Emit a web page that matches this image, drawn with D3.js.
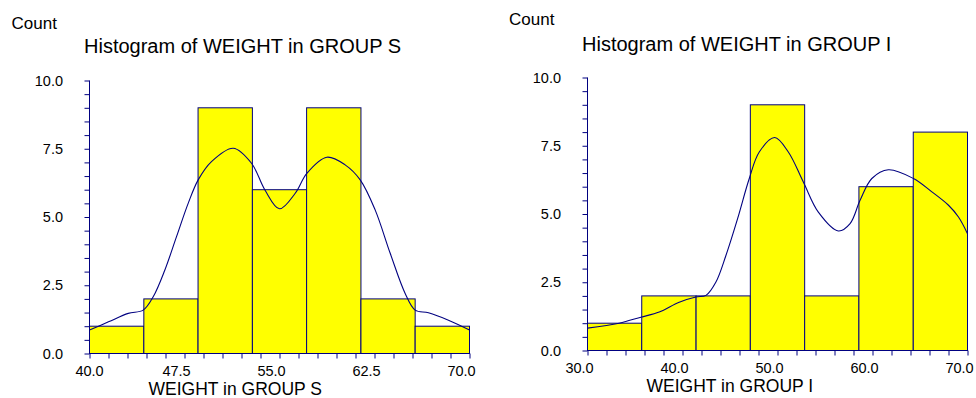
<!DOCTYPE html>
<html>
<head>
<meta charset="utf-8">
<script src="https://cdn.jsdelivr.net/npm/d3@7/dist/d3.min.js"></script>
<style>
  html, body { margin: 0; padding: 0; background: #ffffff; }
  svg { display: block; }
  text { font-family: "Liberation Sans", Arial, sans-serif; fill: #000; }
</style>
</head>
<body>
<svg id="chart" width="976" height="398"></svg>
<script>
// ---- Group S ----
const binEdgesS = [40, 44.29, 48.57, 52.86, 57.14, 61.43, 65.71, 70];
const countsS = [1, 2, 9, 6, 9, 2, 1];
const densityXS = [40.0, 41.5, 43.06, 44.24, 45.03, 45.95, 46.87, 47.79, 48.58, 49.63, 51.35, 52.79, 53.85, 55.0, 56.24, 57.16, 58.74, 60.18, 61.37, 62.55, 63.74, 64.92, 65.71, 66.76, 68.34, 70.0];
const densityYS = [0.86, 1.16, 1.47, 1.59, 2.08, 3.06, 4.28, 5.50, 6.36, 7.03, 7.52, 6.97, 5.99, 5.30, 5.87, 6.60, 7.19, 6.91, 6.36, 5.26, 3.67, 2.20, 1.59, 1.49, 1.22, 0.86];
const xMinorTicksS = d3.range(40, 70.001, 1.5);
const xTickLabelsS = [40, 47.5, 55, 62.5, 70];

// ---- Group I ----
const binEdgesI = [30, 35.71, 41.43, 47.14, 52.86, 58.57, 64.29, 70];
const countsI = [1, 2, 2, 9, 2, 6, 8];
const densityXI = [30.0, 33.33, 35.62, 37.55, 39.65, 41.41, 42.47, 43.52, 44.57, 45.80, 47.03, 48.08, 49.7, 51.14, 52.72, 54.30, 56.41, 57.64, 58.69, 59.93, 61.67, 64.31, 66.25, 68.0, 69.05, 70.0];
const densityYI = [0.82, 1.00, 1.22, 1.41, 1.77, 1.96, 2.02, 2.51, 3.48, 4.83, 6.30, 7.27, 7.80, 7.27, 6.17, 5.07, 4.38, 4.65, 5.50, 6.30, 6.62, 6.30, 5.81, 5.32, 4.89, 4.28];
const xMinorTicksI = d3.range(30, 70.001, 2);
const xTickLabelsI = [30, 40, 50, 60, 70];

// Shared count axis
const yMinorTicks = d3.range(0, 10.001, 0.5);
const yTickLabels = [0, 2.5, 5, 7.5, 10];

const NAVY = "#000080";
const svg = d3.select("#chart");

const panels = [
  {
    title: "Histogram of WEIGHT in GROUP S", xLabel: "WEIGHT in GROUP S",
    edges: binEdgesS, counts: countsS, dx: densityXS, dy: densityYS,
    minor: xMinorTicksS, labels: xTickLabelsS,
    left: 89.5, right: 469.5, bottom: 353.5, top: 80.5,
    countPos: [11.5, 29], titlePos: [84, 53], firstLabelCentered: true
  },
  {
    title: "Histogram of WEIGHT in GROUP I", xLabel: "WEIGHT in GROUP I",
    edges: binEdgesI, counts: countsI, dx: densityXI, dy: densityYI,
    minor: xMinorTicksI, labels: xTickLabelsI,
    left: 587.5, right: 967.5, bottom: 350.5, top: 77.5,
    countPos: [509, 25], titlePos: [582, 51], firstLabelCentered: false
  }
];

panels.forEach(p => {
  const g = svg.append("g");
  const x = d3.scaleLinear().domain([p.edges[0], p.edges[p.edges.length - 1]]).range([p.left, p.right]);
  const y = d3.scaleLinear().domain([0, 10]).range([p.bottom, p.top]);

  // headings
  g.append("text").attr("x", p.countPos[0]).attr("y", p.countPos[1])
    .style("font-size", "17px").text("Count");
  g.append("text").attr("x", p.titlePos[0]).attr("y", p.titlePos[1])
    .style("font-size", "20px").text(p.title);

  // histogram bars
  const bins = p.counts.map((c, i) => ({ x0: p.edges[i], x1: p.edges[i + 1], c }));
  g.append("g").selectAll("rect").data(bins).join("rect")
    .attr("x", d => x(d.x0))
    .attr("y", d => y(d.c))
    .attr("width", d => x(d.x1) - x(d.x0))
    .attr("height", d => y(0) - y(d.c))
    .attr("fill", "#ffff00")
    .attr("stroke", NAVY)
    .attr("stroke-width", 1);

  // smoothed density curve
  const pts = p.dx.map((v, i) => [v, p.dy[i]]);
  g.append("path")
    .datum(pts)
    .attr("fill", "none")
    .attr("stroke", NAVY)
    .attr("stroke-width", 1.1)
    .attr("d", d3.line().x(d => x(d[0])).y(d => y(d[1])).curve(d3.curveCatmullRom.alpha(0.5)));

  // y axis: minor ticks every 0.5, labels every 2.5
  const yAxis = g.append("g").attr("transform", `translate(${p.left},0)`)
    .call(d3.axisLeft(y).tickValues(yMinorTicks).tickSize(5).tickFormat(""));
  yAxis.select(".domain").attr("stroke", NAVY).attr("d", `M0,${p.bottom}V${p.top}`);
  yAxis.selectAll(".tick line").attr("stroke", NAVY);
  g.append("g").selectAll("text").data(yTickLabels).join("text")
    .attr("x", p.left - 26.5)
    .attr("y", d => y(d))
    .attr("dy", "0.36em")
    .attr("text-anchor", "end")
    .style("font-size", "14.5px")
    .text(d3.format(".1f"));

  // x axis: minor ticks, labelled ticks
  const xAxis = g.append("g").attr("transform", `translate(0,${p.bottom})`)
    .call(d3.axisBottom(x).tickValues(p.minor).tickSize(5).tickFormat(""));
  xAxis.select(".domain").attr("stroke", NAVY).attr("d", `M${p.left},0H${p.right}`);
  xAxis.selectAll(".tick line").attr("stroke", NAVY);
  g.append("g").selectAll("text").data(p.labels).join("text")
    .attr("x", (d, i) => x(d) + ((p.firstLabelCentered && i === 0) ? 0 : -8))
    .attr("y", p.bottom + 22.5)
    .attr("text-anchor", "middle")
    .style("font-size", "14.5px")
    .text(d3.format(".1f"));

  g.append("text")
    .attr("x", p.left + 59)
    .attr("y", p.bottom + 41)
    .style("font-size", "17.5px")
    .text(p.xLabel);
});
</script>
</body>
</html>
